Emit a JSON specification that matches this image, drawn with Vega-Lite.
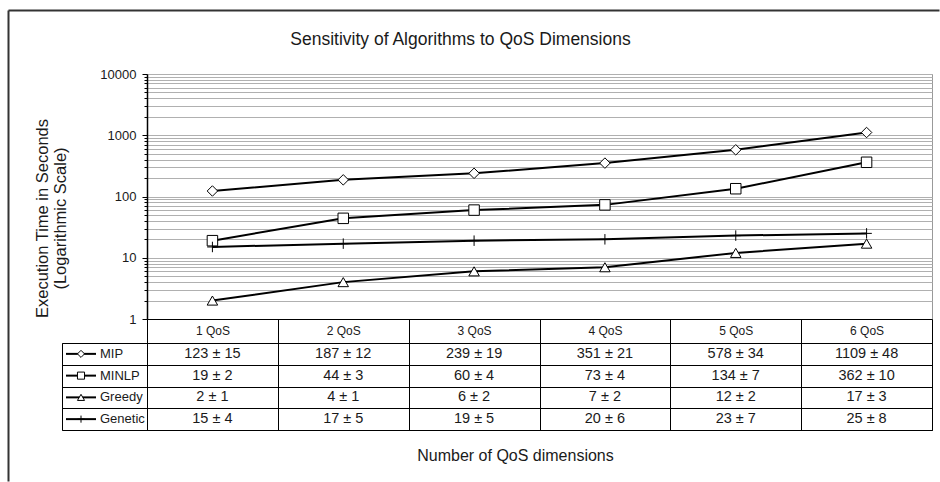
{
  "$schema": "https://vega.github.io/schema/vega-lite/v6.json",
  "padding": {"left": 8, "top": 10, "right": 0, "bottom": 0},
  "background": "white",
  "config": {
    "font": "Liberation Sans",
    "view": {"stroke": null},
    "axis": {"labelColor": "#1a1a1a", "titleColor": "#1a1a1a", "titleFontWeight": "normal"}
  },
  "datasets": {
    "perf": [
      {"series": "MIP", "qos": "1 QoS", "time": 123, "sd": 15, "label": "123 ± 15"},
      {"series": "MIP", "qos": "2 QoS", "time": 187, "sd": 12, "label": "187 ± 12"},
      {"series": "MIP", "qos": "3 QoS", "time": 239, "sd": 19, "label": "239 ± 19"},
      {"series": "MIP", "qos": "4 QoS", "time": 351, "sd": 21, "label": "351 ± 21"},
      {"series": "MIP", "qos": "5 QoS", "time": 578, "sd": 34, "label": "578 ± 34"},
      {"series": "MIP", "qos": "6 QoS", "time": 1109, "sd": 48, "label": "1109 ± 48"},
      {"series": "MINLP", "qos": "1 QoS", "time": 19, "sd": 2, "label": "19 ± 2"},
      {"series": "MINLP", "qos": "2 QoS", "time": 44, "sd": 3, "label": "44 ± 3"},
      {"series": "MINLP", "qos": "3 QoS", "time": 60, "sd": 4, "label": "60 ± 4"},
      {"series": "MINLP", "qos": "4 QoS", "time": 73, "sd": 4, "label": "73 ± 4"},
      {"series": "MINLP", "qos": "5 QoS", "time": 134, "sd": 7, "label": "134 ± 7"},
      {"series": "MINLP", "qos": "6 QoS", "time": 362, "sd": 10, "label": "362 ± 10"},
      {"series": "Greedy", "qos": "1 QoS", "time": 2, "sd": 1, "label": "2 ± 1"},
      {"series": "Greedy", "qos": "2 QoS", "time": 4, "sd": 1, "label": "4 ± 1"},
      {"series": "Greedy", "qos": "3 QoS", "time": 6, "sd": 2, "label": "6 ± 2"},
      {"series": "Greedy", "qos": "4 QoS", "time": 7, "sd": 2, "label": "7 ± 2"},
      {"series": "Greedy", "qos": "5 QoS", "time": 12, "sd": 2, "label": "12 ± 2"},
      {"series": "Greedy", "qos": "6 QoS", "time": 17, "sd": 3, "label": "17 ± 3"},
      {"series": "Genetic", "qos": "1 QoS", "time": 15, "sd": 4, "label": "15 ± 4"},
      {"series": "Genetic", "qos": "2 QoS", "time": 17, "sd": 5, "label": "17 ± 5"},
      {"series": "Genetic", "qos": "3 QoS", "time": 19, "sd": 5, "label": "19 ± 5"},
      {"series": "Genetic", "qos": "4 QoS", "time": 20, "sd": 6, "label": "20 ± 6"},
      {"series": "Genetic", "qos": "5 QoS", "time": 23, "sd": 7, "label": "23 ± 7"},
      {"series": "Genetic", "qos": "6 QoS", "time": 25, "sd": 8, "label": "25 ± 8"}
    ],
    "algos": [
      {"series": "MIP"},
      {"series": "MINLP"},
      {"series": "Greedy"},
      {"series": "Genetic"}
    ]
  },
  "columns": 2,
  "spacing": {"row": 24, "column": 0},
  "bounds": "flush",
  "resolve": {"scale": {"x": "independent", "y": "independent"}},
  "concat": [
    {
      "width": 85,
      "height": 245,
      "data": {"values": []},
      "mark": {"type": "point", "opacity": 0},
      "encoding": {
        "x": {
          "field": "frame_x", "type": "quantitative",
          "scale": {"domain": [0, 1], "range": [-54, 877], "nice": false, "zero": false},
          "axis": {"orient": "top", "offset": 64, "ticks": false, "labels": false, "grid": false, "title": null, "domainColor": "#333333", "domainWidth": 2}
        },
        "y": {
          "field": "frame_y", "type": "quantitative",
          "scale": {"domain": [0, 1], "range": [407, -64], "nice": false, "zero": false},
          "axis": {"orient": "left", "offset": 54, "ticks": false, "labels": false, "grid": false, "title": null, "domainColor": "#333333", "domainWidth": 2}
        }
      }
    },
    {
      "width": 785,
      "height": 245,
      "title": {"text": "Sensitivity of Algorithms to QoS Dimensions", "fontSize": 17.5, "fontWeight": "normal", "color": "#1a1a1a", "offset": 20, "anchor": "middle", "dx": -79},
      "data": {"name": "perf"},
      "view": {"stroke": "#999999", "strokeWidth": 1},
      "encoding": {
        "x": {
          "field": "qos", "type": "nominal",
          "scale": {"type": "band", "paddingInner": 0, "paddingOuter": 0},
          "axis": {
            "orient": "bottom", "title": null, "labelAngle": 0,
            "tickBand": "extent", "tickSize": 24,
            "tickColor": "black", "domainColor": "black", "domainWidth": 1,
            "labelPadding": -18, "labelFontSize": 12, "grid": false
          }
        },
        "y": {
          "field": "time", "type": "quantitative",
          "scale": {"type": "log", "domain": [1, 10000], "nice": false},
          "axis": {
            "values": [1,2,3,4,5,6,7,8,9,10,20,30,40,50,60,70,80,90,100,200,300,400,500,600,700,800,900,1000,2000,3000,4000,5000,6000,7000,8000,9000,10000],
            "labelExpr": "indexof([1,10,100,1000,10000], datum.value) >= 0 ? '' + datum.value : ''",
            "labelOverlap": false,
            "labelFontSize": 13,
            "labelPadding": 6,
            "title": ["Execution Time in Seconds", "(Logarithmic Scale)"],
            "titleFontSize": 16.5,
            "titleLineHeight": 18,
            "titleY": 144,
            "titlePadding": 31,
            "grid": true, "gridColor": "#b0b0b0", "gridWidth": 1,
            "domainColor": "black", "domainWidth": 1.5,
            "tickColor": "black",
            "tickSize": {"condition": {"test": "indexof([1,10,100,1000,10000], datum.value) >= 0", "value": 5}, "value": 3}
          }
        }
      },
      "layer": [
        {
          "mark": {"type": "line", "color": "black", "strokeWidth": 2},
          "encoding": {"detail": {"field": "series"}}
        },
        {
          "mark": {"type": "point", "filled": true, "fill": "white", "stroke": "black", "strokeWidth": 1, "opacity": 1, "size": 110},
          "encoding": {
            "shape": {
              "field": "series", "type": "nominal",
              "scale": {"domain": ["MIP", "MINLP", "Greedy", "Genetic"], "range": ["diamond", "square", "triangle-up", "M0,-1V1M-1,0H1"]},
              "legend": null
            }
          }
        }
      ]
    },
    {
      "width": 85,
      "height": 87,
      "data": {"name": "algos"},
      "view": {"stroke": "black", "strokeWidth": 1},
      "encoding": {
        "y": {
          "field": "series", "type": "nominal",
          "sort": ["MIP", "MINLP", "Greedy", "Genetic"],
          "scale": {"paddingInner": 0, "paddingOuter": 0},
          "axis": {"labels": false, "ticks": false, "domain": false, "grid": true, "tickBand": "extent", "gridColor": "black", "gridWidth": 1, "title": null}
        }
      },
      "layer": [
        {"mark": {"type": "tick", "orient": "horizontal", "size": 30, "thickness": 2, "color": "black", "opacity": 1, "xOffset": -23.5}},
        {
          "mark": {"type": "point", "filled": true, "fill": "white", "stroke": "black", "strokeWidth": 1, "opacity": 1, "size": 50, "xOffset": -23.5},
          "encoding": {
            "shape": {
              "field": "series", "type": "nominal",
              "scale": {"domain": ["MIP", "MINLP", "Greedy", "Genetic"], "range": ["diamond", "square", "triangle-up", "M0,-1V1M-1,0H1"]},
              "legend": null
            }
          }
        },
        {
          "mark": {"type": "text", "align": "left", "dx": -4.5, "fontSize": 13, "color": "#1a1a1a"},
          "encoding": {"text": {"field": "series"}}
        }
      ]
    },
    {
      "width": 785,
      "height": 87,
      "data": {"name": "perf"},
      "view": {"stroke": "black", "strokeWidth": 1},
      "mark": {"type": "text", "fontSize": 14.5, "color": "#1a1a1a"},
      "encoding": {
        "x": {
          "field": "qos", "type": "nominal",
          "scale": {"paddingInner": 0, "paddingOuter": 0},
          "axis": {"orient": "bottom", "title": "Number of QoS dimensions", "labels": false, "ticks": false, "domain": false, "grid": true, "tickBand": "extent", "gridColor": "black", "gridWidth": 1, "titleFontSize": 16, "titleFontWeight": "normal", "titlePadding": 17, "titleX": 368}
        },
        "y": {
          "field": "series", "type": "nominal",
          "sort": ["MIP", "MINLP", "Greedy", "Genetic"],
          "scale": {"paddingInner": 0, "paddingOuter": 0},
          "axis": {"labels": false, "ticks": false, "domain": false, "grid": true, "tickBand": "extent", "gridColor": "black", "gridWidth": 1, "title": null}
        },
        "text": {"field": "label"}
      }
    }
  ]
}
